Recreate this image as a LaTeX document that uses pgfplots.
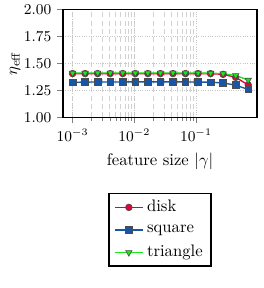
\documentclass[border=0pt]{standalone}
\usepackage{pgfplots}
\pgfplotsset{compat=1.18}
\definecolor{cred}{RGB}{230,0,55}
\definecolor{cblue}{RGB}{25,85,165}
\definecolor{cgreen}{RGB}{20,235,20}
\begin{document}
\begin{tikzpicture}
\path[use as bounding box] (-37.8pt,-102.4pt) rectangle (120pt,70.4pt);
\begin{axis}[
  scale only axis, width=116.4pt, height=64.8pt,
  xmode=log, xmin=7e-4, xmax=0.97,
  ymin=1, ymax=2,
  ytick={1,1.25,1.5,1.75,2},
  yticklabel style={/pgf/number format/.cd,fixed,fixed zerofill,precision=2},
  ticklabel style={font=\small},
  xtick={1e-3,1e-2,1e-1},
  tick align=outside, tick pos=left,
  major tick length=3.5pt, minor tick length=2pt,
  grid=both,
  major grid style={gray!45, densely dotted, line width=0.4pt},
  minor grid style={gray!35, densely dashed, line width=0.3pt},
  axis line style={line width=0.8pt},
  xlabel={feature size $|\gamma|$},
  ylabel={$\eta_{\mathrm{eff}}$},
  every axis y label/.style={at={(axis description cs:-0.247,0.5)}, anchor=center, rotate=90},
  legend style={at={(0.5,-0.70)}, anchor=north, draw=black, line width=0.9pt,
    row sep=2.3pt, font=\normalsize, cells={anchor=west}},
  legend cell align=left,
  every axis plot/.append style={line width=0.8pt},
]
\addplot[cred, mark=*, mark size=2pt, mark options={fill=cred, draw=black!70, line width=0.4pt}] coordinates {
(0.001,1.405) (0.0015966,1.405) (0.002549,1.405) (0.004070,1.405) (0.006498,1.405)
(0.010375,1.405) (0.016565,1.405) (0.026446,1.405) (0.042226,1.405) (0.06742,1.405)
(0.10765,1.405) (0.17189,1.404) (0.2744,1.398) (0.4381,1.370) (0.6995,1.300)};
\addlegendentry{disk}
\addplot[cblue, mark=square*, mark size=2pt, mark options={fill=cblue, draw=black!70, line width=0.4pt}] coordinates {
(0.001,1.325) (0.0015966,1.326) (0.002549,1.327) (0.004070,1.327) (0.006498,1.328)
(0.010375,1.328) (0.016565,1.328) (0.026446,1.328) (0.042226,1.328) (0.06742,1.328)
(0.10765,1.327) (0.17189,1.325) (0.2744,1.318) (0.4381,1.298) (0.6995,1.258)};
\addlegendentry{square}
\addplot[cgreen, mark=triangle*, mark size=2.2pt, mark options={rotate=180, fill=cgreen, draw=black!70, line width=0.4pt}] coordinates {
(0.001,1.410) (0.0015966,1.410) (0.002549,1.411) (0.004070,1.411) (0.006498,1.411)
(0.010375,1.411) (0.016565,1.411) (0.026446,1.411) (0.042226,1.411) (0.06742,1.411)
(0.10765,1.410) (0.17189,1.409) (0.2744,1.404) (0.4381,1.388) (0.6995,1.345)};
\addlegendentry{triangle}
\end{axis}
\end{tikzpicture}
\end{document}
